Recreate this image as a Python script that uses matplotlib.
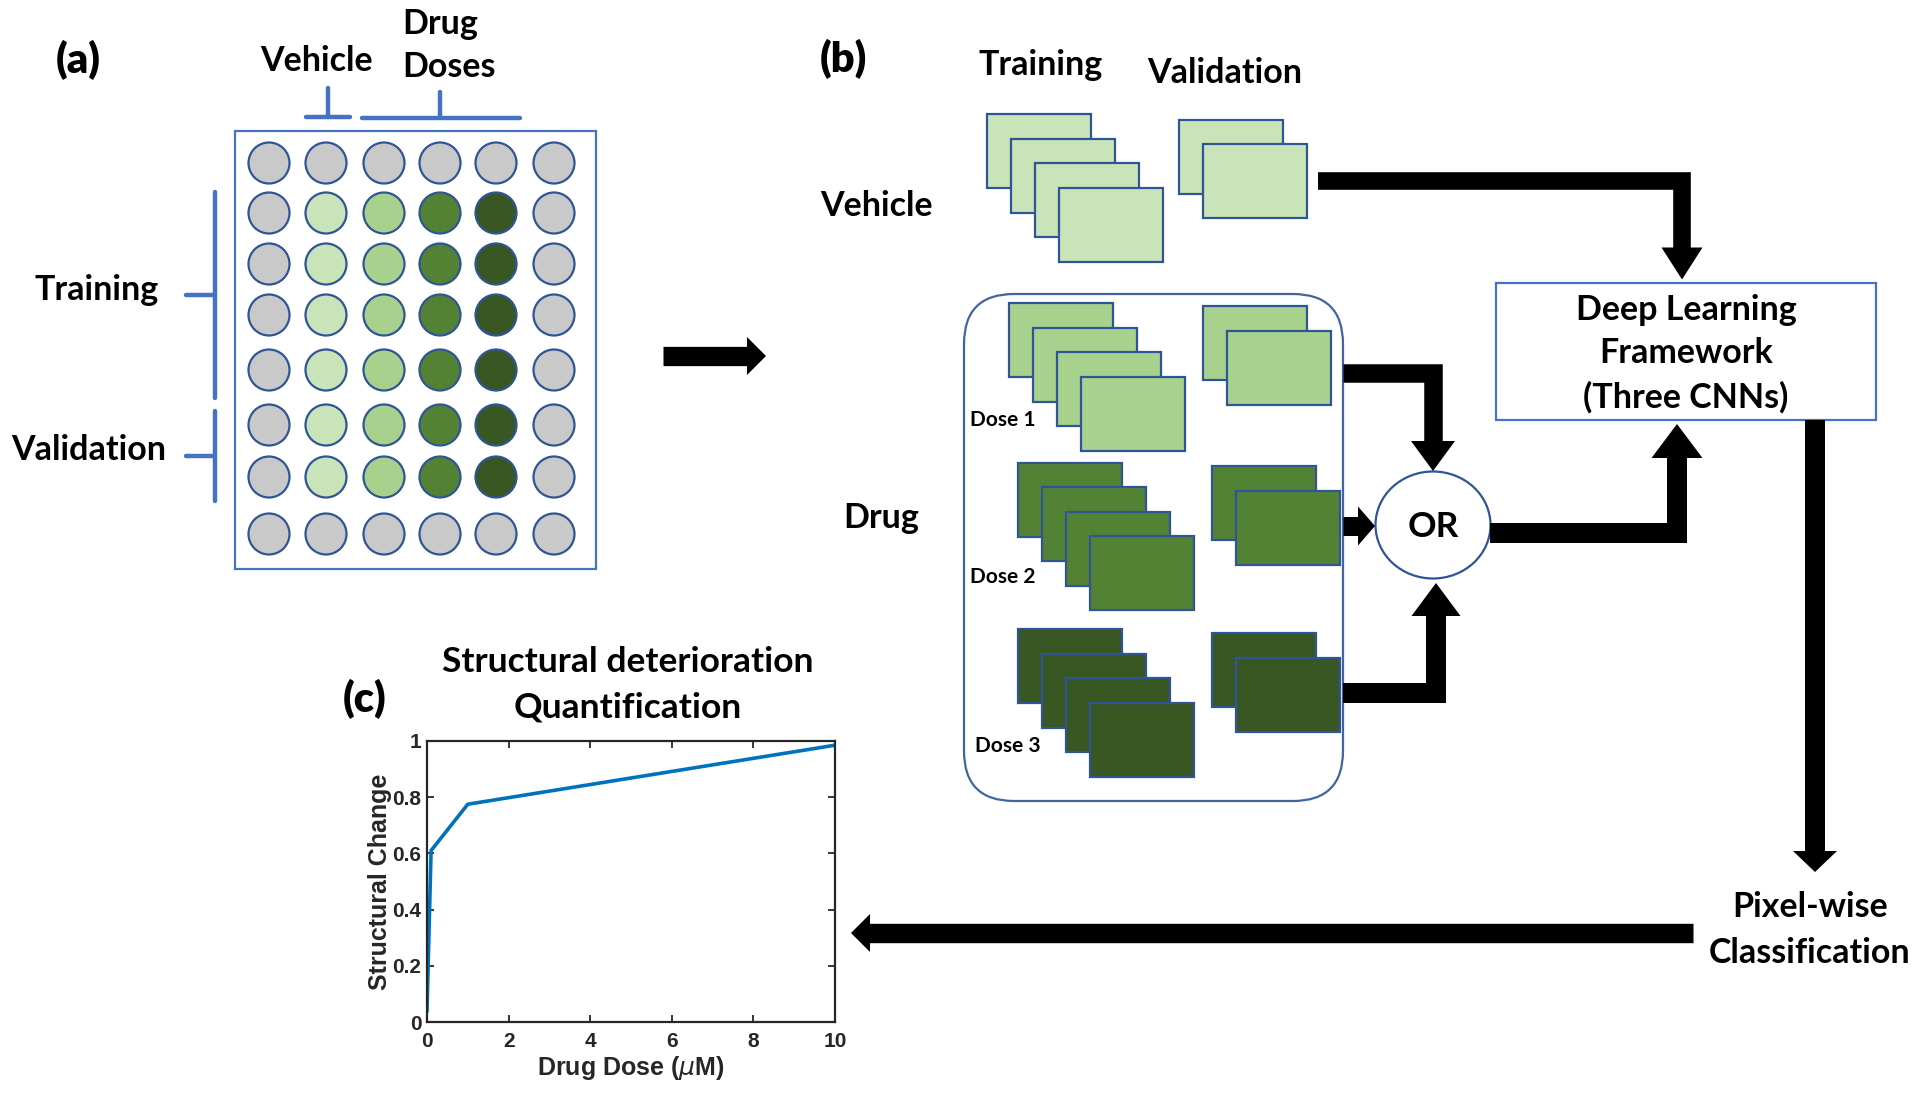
import numpy as np
import matplotlib
matplotlib.use("Agg")
import matplotlib.pyplot as plt
from matplotlib.patches import Rectangle, Circle, Ellipse, FancyBboxPatch, Polygon
from matplotlib.font_manager import FontProperties

# (c) quantification curve
drug_dose = [0, 0.1, 1, 10]
structural_change = [0.04, 0.61, 0.775, 0.985]
x_ticks = [0, 2, 4, 6, 8, 10]
y_ticks = [0, 0.2, 0.4, 0.6, 0.8, 1]
y_tick_labels = ["0", "0.2", "0.4", "0.6", "0.8", "1"]

# (a) well plate layout
plate_columns = ["empty", "vehicle", "dose1", "dose2", "dose3", "empty"]
plate_rows = ["empty", "train", "train", "train", "train", "val", "val", "empty"]

# (b) image stacks
stack_groups = ["vehicle", "dose1", "dose2", "dose3"]
n_train = 4
n_val = 2
dose_labels = ["Dose 1", "Dose 2", "Dose 3"]

fill = {"empty": "#c9c9c9", "vehicle": "#c9e4b9", "dose1": "#a9d18e",
        "dose2": "#548235", "dose3": "#385723"}
edge_dark = "#2f5597"
edge_light = "#4472c4"
FONT = "Lato"

fig = plt.figure(figsize=(19.2, 10.94), dpi=100)
ax = fig.add_axes([0, 0, 1, 1])
ax.set_xlim(0, 1920)
ax.set_ylim(1094, 0)
ax.axis("off")


def label(x, y, s, size=24.5, ha="center", weight="bold", **kw):
    ax.text(x, y, s, fontsize=size, fontfamily=FONT, fontweight=weight,
            ha=ha, va="center", color="black", **kw)


def block_arrow(path, width, head_w, head_len):
    pts = np.array(path, float)
    d = pts[-1] - pts[-2]
    d = d / np.hypot(*d)
    tip = pts[-1]
    base = tip - d * head_len
    shaft = np.vstack([pts[:-1], base + d * 1.5])
    ax.plot(shaft[:, 0], shaft[:, 1], color="black", lw=width * 0.72,
            solid_joinstyle="miter", solid_capstyle="butt")
    n = np.array([-d[1], d[0]])
    ax.add_patch(Polygon([tip, base + n * head_w / 2, base - n * head_w / 2],
                         closed=True, color="black", lw=0))


# ---------------- panel (a) ----------------
label(78, 60, "(a)", size=30, weight="heavy")
ax.add_patch(Rectangle((235, 131), 361, 438, fill=False, ec=edge_light, lw=1.6))
col_x = [269, 326, 384, 440, 496, 554]
row_y = [163, 213, 264, 315, 370, 425, 477, 534]
for r, kind in enumerate(plate_rows):
    for c, col in enumerate(plate_columns):
        key = col if kind != "empty" else "empty"
        ax.add_patch(Circle((col_x[c], row_y[r]), 20.5, fc=fill[key],
                            ec=edge_dark, lw=1.6))

bracket = dict(color=edge_light, lw=3.2, solid_capstyle="round")
label(317, 61, "Vehicle")
ax.plot([306, 350], [117, 117], **bracket)
ax.plot([328, 328], [88, 117], **bracket)
label(402, 24, "Drug", ha="left")
label(402, 67, "Doses", ha="left")
ax.plot([362, 520], [118, 118], **bracket)
ax.plot([440, 440], [92, 118], **bracket)

label(97, 290, "Training")
ax.plot([215, 215], [192, 398], **bracket)
ax.plot([186, 215], [295, 295], **bracket)
label(89, 450, "Validation")
ax.plot([215, 215], [411, 501], **bracket)
ax.plot([186, 215], [456, 456], **bracket)

block_arrow([(663, 356), (766, 356)], 19.3, 38, 19)

# ---------------- panel (b) ----------------
label(843, 59, "(b)", size=30, weight="heavy")
label(1041, 65, "Training")
label(1225, 73, "Validation")
label(877, 206, "Vehicle")
label(881, 518, "Drug")

ax.add_patch(FancyBboxPatch((964 + 50, 294 + 50), 379 - 100, 507 - 100,
                            boxstyle="round,pad=50", fill=False,
                            ec="#41659f", lw=1.6))

img_w, img_h = 104, 74
step = (24, 24.5)
train_origin = {"vehicle": (987, 114), "dose1": (1009, 303),
                "dose2": (1018, 462.5), "dose3": (1018, 629)}
val_origin = {"vehicle": (1179, 119.5), "dose1": (1203, 306),
              "dose2": (1211.5, 466), "dose3": (1211.5, 633)}
for g in stack_groups:
    for count, origin in ((n_train, train_origin[g]), (n_val, val_origin[g])):
        for i in range(count):
            ax.add_patch(Rectangle((origin[0] + i * step[0], origin[1] + i * step[1]),
                                   img_w, img_h, fc=fill[g], ec=edge_dark, lw=1.6))

label(970, 420, dose_labels[0], size=15, ha="left")
label(970, 577, dose_labels[1], size=15, ha="left")
label(975, 746, dose_labels[2], size=15, ha="left")

ax.add_patch(Ellipse((1433, 525), 115, 107, fc="white", ec=edge_dark, lw=1.6))
label(1433, 527, "OR", size=25.5)

ax.add_patch(Rectangle((1496, 283), 380, 137, fill=False, ec=edge_light, lw=1.6))
label(1686, 310, "Deep Learning")
label(1686, 353, "Framework")
label(1686, 397, "(Three CNNs)")

label(1810, 907, "Pixel-wise")
label(1810, 953, "Classification")

block_arrow([(1318, 180.5), (1682, 180.5), (1682, 279.5)], 17.6, 41, 32)
block_arrow([(1343, 373), (1433, 373), (1433, 471)], 18.5, 44, 30)
block_arrow([(1343, 526), (1375, 526)], 19, 39, 17)
block_arrow([(1343, 693), (1436, 693), (1436, 583)], 20, 49, 33)
block_arrow([(1490, 533), (1677, 533), (1677, 424)], 20, 51, 34)
block_arrow([(1815, 420), (1815, 872)], 20, 44, 21)
block_arrow([(1693, 933), (851, 933)], 19.4, 38, 19)

# ---------------- panel (c) ----------------
label(365, 699, "(c)", size=30, weight="heavy")
label(628, 662, "Structural deterioration", size=25.5)
label(628, 708, "Quantification", size=25.5)

ink = "#262626"
tick_font = FontProperties(family="Liberation Sans", weight="bold", size=15)
axis_font = FontProperties(family="Liberation Sans", weight="bold", size=18)
cax = fig.add_axes([427 / 1920, 1 - 1022 / 1094, 408 / 1920, 281 / 1094])
cax.plot(drug_dose, structural_change, color="#0072bd", lw=2.6)
cax.set_xlim(0, 10)
cax.set_ylim(0, 1)
cax.set_xticks(x_ticks, labels=[str(v) for v in x_ticks], fontproperties=tick_font)
cax.set_yticks(y_ticks, labels=y_tick_labels, fontproperties=tick_font)
for s in cax.spines.values():
    s.set_color(ink)
    s.set_linewidth(1.6)
cax.tick_params(direction="in", top=True, right=True, length=5, width=1.3,
                color=ink, labelcolor=ink)
cax.tick_params(axis="x", pad=7)
cax.tick_params(axis="y", pad=4)
cax.set_xlabel("Drug Dose ($\\mu$M)", fontproperties=axis_font, color=ink, labelpad=2)
cax.set_ylabel("Structural Change", fontproperties=axis_font, color=ink, labelpad=0)

fig.savefig("out.png", dpi=100)
